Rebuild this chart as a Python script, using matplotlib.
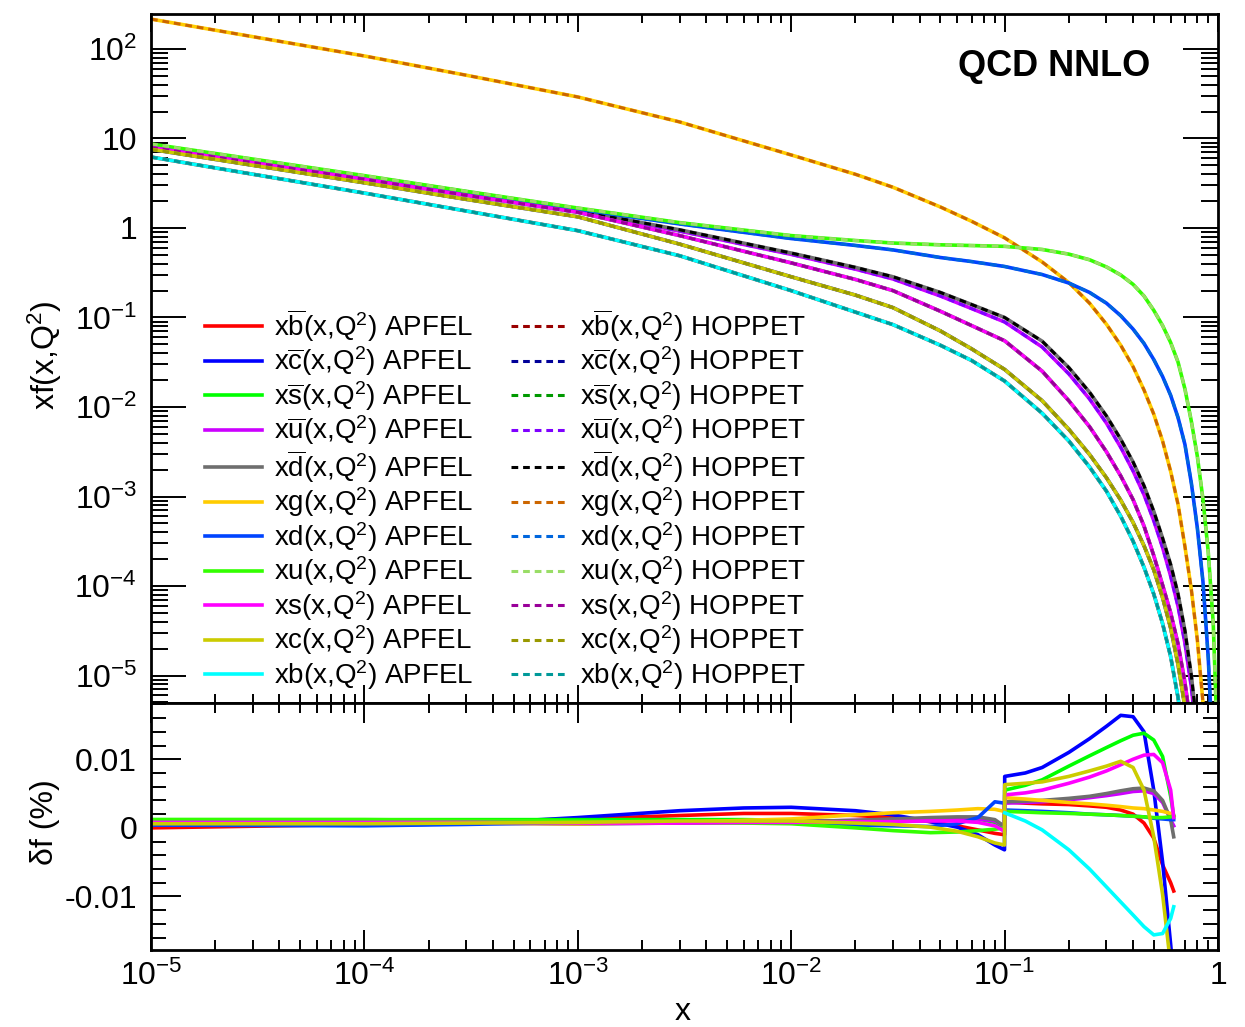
import matplotlib
matplotlib.use("Agg")
import matplotlib.pyplot as plt
import numpy as np
from matplotlib.ticker import FixedLocator, MultipleLocator, FuncFormatter, NullFormatter

plt.rcParams['font.family'] = ['Liberation Sans', 'DejaVu Sans']
plt.rcParams['mathtext.fontset'] = 'custom'
plt.rcParams['mathtext.rm'] = 'Liberation Sans'
plt.rcParams['mathtext.it'] = 'Liberation Sans:italic'
plt.rcParams['mathtext.bf'] = 'Liberation Sans:bold'
plt.rcParams['mathtext.default'] = 'regular'
plt.rcParams['axes.unicode_minus'] = False

# x grid of the PDF panel
x_pdf = [1e-5, 1e-4, 3e-4, 1e-3, 3e-3, 1e-2, 0.02, 0.03, 0.05, 0.07, 0.1, 0.15, 0.2, 0.25,
         0.3, 0.35, 0.4, 0.45, 0.5, 0.55, 0.6, 0.65, 0.7, 0.75, 0.8, 0.85, 0.9, 0.95, 0.98]

# log10 of xf(x,Q^2)
lg_xg = [2.334, 1.922, 1.707, 1.464, 1.185, 0.816, 0.60, 0.455, 0.235, 0.075, -0.11, -0.38, -0.61, -0.84,
         -1.075, -1.31, -1.55, -1.81, -2.08, -2.38, -2.72, -3.09, -3.56, -4.04, -4.6, -5.3, -6.1, -7.2, -8.2]
lg_xu = [0.939, 0.585, 0.41, 0.223, 0.060, -0.085, -0.14, -0.168, -0.188, -0.196, -0.205, -0.240, -0.292, -0.355,
         -0.435, -0.525, -0.63, -0.76, -0.92, -1.09, -1.28, -1.50, -1.80, -2.16, -2.55, -3.03, -3.62, -4.42, -5.35]
lg_xd = [0.927, 0.577, 0.405, 0.212, 0.045, -0.118, -0.195, -0.245, -0.33, -0.375, -0.43, -0.52, -0.615, -0.72,
         -0.84, -0.98, -1.13, -1.29, -1.47, -1.66, -1.87, -2.12, -2.42, -2.85, -3.35, -3.95, -4.8, -6.0, -7.5]
lg_xdbar = [0.916, 0.568, 0.39, 0.195, -0.02, -0.28, -0.44, -0.545, -0.72, -0.855, -1.0, -1.265, -1.56, -1.835,
            -2.1, -2.36, -2.615, -2.88, -3.165, -3.465, -3.76, -4.09, -4.50, -5.0, -5.6, -6.4, -7.4, -8.6, -9.5]
lg_xubar = [0.911, 0.563, 0.385, 0.19, -0.035, -0.295, -0.46, -0.57, -0.76, -0.90, -1.05, -1.33, -1.63, -1.91,
            -2.18, -2.45, -2.715, -2.98, -3.27, -3.57, -3.89, -4.23, -4.64, -5.13, -5.75, -6.5, -7.5, -8.7, -9.6]
lg_xs = [0.899, 0.545, 0.365, 0.175, -0.085, -0.39, -0.575, -0.70, -0.93, -1.09, -1.26, -1.60, -1.93, -2.22,
         -2.50, -2.77, -3.035, -3.33, -3.66, -3.99, -4.30, -4.65, -5.08, -5.6, -6.3, -7.1, -8.0, -9.0, -10.0]
lg_xc = [0.879, 0.505, 0.32, 0.125, -0.18, -0.545, -0.75, -0.89, -1.15, -1.35, -1.58, -1.93, -2.25, -2.53,
         -2.79, -3.04, -3.29, -3.55, -3.82, -4.13, -4.47, -4.88, -5.35, -5.9, -6.5, -7.2, -8.0, -9.0, -10.0]
lg_xb = [0.793, 0.39, 0.19, -0.03, -0.31, -0.70, -0.94, -1.08, -1.31, -1.48, -1.71, -2.07, -2.38, -2.67,
         -2.94, -3.22, -3.50, -3.79, -4.09, -4.42, -4.79, -5.25, -5.8, -6.4, -7.1, -7.9, -8.8, -9.8, -10.6]

# relative difference APFEL vs HOPPET (%)
x_ratio = [1e-5, 1e-4, 3e-4, 1e-3, 3e-3, 6e-3, 1e-2, 2e-2, 3e-2, 0.045, 0.06, 0.075, 0.09, 0.0999,
           0.1001, 0.125, 0.15, 0.2, 0.25, 0.3, 0.35, 0.4, 0.45, 0.5, 0.55, 0.6, 0.62]
nan = float('nan')
d_bbar = [0.0000, 0.0005, 0.0009, 0.0013, 0.0018, 0.0021, 0.0021, 0.0018, 0.0015, 0.0009, 0.0003, -0.0003, -0.0008, -0.0010,
          0.0038, 0.0036, 0.0035, 0.0034, 0.0032, 0.0030, 0.0026, 0.0020, 0.0007, -0.0015, -0.0054, -0.0080, -0.0092]
d_cbar = [0.0006, 0.0004, 0.0006, 0.0015, 0.0025, 0.0029, 0.0030, 0.0025, 0.0019, 0.0009, 0.0001, -0.0010, -0.0025, -0.0032,
          0.0075, 0.0080, 0.0088, 0.0110, 0.0130, 0.0148, 0.0164, 0.0162, 0.0140, 0.0055, -0.0050, -0.0170, -0.0220]
d_sbar = [0.0012, 0.0012, 0.0012, 0.0012, 0.0012, 0.0012, 0.0011, 0.0010, 0.0009, 0.0011, 0.0014, 0.0013, 0.0008, -0.0005,
          0.0055, 0.0062, 0.0070, 0.0090, 0.0105, 0.0117, 0.0127, 0.0135, 0.0138, 0.0128, 0.0104, 0.0046, 0.0017]
d_ubar = [0.0008, 0.0007, 0.0007, 0.0006, 0.0007, 0.0008, 0.0009, 0.0011, 0.0012, 0.0013, 0.0014, 0.0013, 0.0010, 0.0002,
          0.0036, 0.0037, 0.0038, 0.0041, 0.0044, 0.0047, 0.0050, 0.0053, 0.0054, 0.0050, 0.0037, 0.0012, 0.0003]
d_dbar = [0.0008, 0.0007, 0.0007, 0.0006, 0.0007, 0.0008, 0.0009, 0.0011, 0.0013, 0.0015, 0.0016, 0.0016, 0.0012, 0.0002,
          0.0038, 0.0039, 0.0040, 0.0043, 0.0046, 0.0050, 0.0054, 0.0057, 0.0058, 0.0054, 0.0040, 0.0012, -0.0013]
d_g = [0.0008, 0.0008, 0.0007, 0.0006, 0.0008, 0.0011, 0.0013, 0.0019, 0.0022, 0.0024, 0.0026, 0.0028, 0.0027, 0.0024,
       0.0044, 0.0042, 0.0040, 0.0037, 0.0035, 0.0033, 0.0031, 0.0029, 0.0028, 0.0026, 0.0024, 0.0021, 0.0017]
d_d = [0.0004, 0.0003, 0.0005, 0.0008, 0.0009, 0.0008, 0.0007, 0.0004, 0.0003, 0.0002, 0.0006, 0.0015, 0.0038, 0.0036,
       0.0026, 0.0025, 0.0024, 0.0022, 0.0020, 0.0019, 0.0018, 0.0017, 0.0016, 0.0014, 0.0013, 0.0012, 0.0012]
d_u = [0.0012, 0.0012, 0.0011, 0.0010, 0.0008, 0.0007, 0.0006, 0.0000, -0.0004, -0.0007, -0.0006, -0.0004, -0.0002, 0.0000,
       0.0024, 0.0023, 0.0022, 0.0021, 0.0020, 0.0019, 0.0018, 0.0017, 0.0016, 0.0015, 0.0015, 0.0016, 0.0018]
d_s = [0.0008, 0.0008, 0.0008, 0.0007, 0.0007, 0.0008, 0.0008, 0.0009, 0.0009, 0.0010, 0.0010, 0.0008, 0.0003, -0.0005,
       0.0048, 0.0051, 0.0055, 0.0065, 0.0074, 0.0083, 0.0092, 0.0100, 0.0106, 0.0107, 0.0095, 0.0055, 0.0015]
d_c = [0.0006, 0.0006, 0.0007, 0.0008, 0.0010, 0.0010, 0.0010, 0.0007, 0.0005, 0.0001, -0.0005, -0.0013, -0.0022, -0.0025,
       0.0063, 0.0065, 0.0067, 0.0075, 0.0083, 0.0090, 0.0097, 0.0088, 0.0055, -0.0013, -0.0097, -0.0200, -0.0250]
d_b = [nan, nan, nan, nan, nan, nan, nan, nan, nan, nan, nan, nan, nan, nan,
       0.0022, 0.0010, -0.0003, -0.0032, -0.0060, -0.0086, -0.0108, -0.0127, -0.0144, -0.0156, -0.0154, -0.0132, -0.0115]

flavours = [r'x$\overline{\mathrm{b}}$', r'x$\overline{\mathrm{c}}$', r'x$\overline{\mathrm{s}}$',
            r'x$\overline{\mathrm{u}}$', r'x$\overline{\mathrm{d}}$', 'xg', 'xd', 'xu', 'xs', 'xc', 'xb']
pdfs = [lg_xb, lg_xc, lg_xs, lg_xubar, lg_xdbar, lg_xg, lg_xd, lg_xu, lg_xs, lg_xc, lg_xb]
ratios = [d_bbar, d_cbar, d_sbar, d_ubar, d_dbar, d_g, d_d, d_u, d_s, d_c, d_b]

apfel_colors = ['#FF0000', '#0000FF', '#00FF00', '#CC00FF', '#6E6E6E', '#FFCC00',
                '#0044FF', '#33FF00', '#FF00FF', '#CCCC00', '#00FFFF']
hoppet_colors = ['#990000', '#000099', '#009900', '#7F00FF', '#000000', '#CC6600',
                 '#0066DD', '#99DD66', '#990099', '#999900', '#009999']

fig = plt.figure(figsize=(12.45, 10.27), dpi=100)
ax1 = fig.add_axes([0.12129, 0.31548, 0.85703, 0.67089])
ax2 = fig.add_axes([0.12129, 0.07498, 0.85703, 0.24051])

apfel_lines = []
hoppet_lines = []
for i in range(len(flavours)):
    f = 10.0 ** np.array(pdfs[i])
    la, = ax1.plot(x_pdf, f, color=apfel_colors[i], lw=2.6)
    lh, = ax1.plot(x_pdf, f, color=hoppet_colors[i], lw=2.2, ls=(0, (2.2, 1.6)))
    apfel_lines.append(la)
    hoppet_lines.append(lh)
    ax2.plot(x_ratio, ratios[i], color=apfel_colors[i], lw=2.6)

labels = [f + '(x,Q$^{2}$) APFEL' for f in flavours] + [f + '(x,Q$^{2}$) HOPPET' for f in flavours]
ax1.legend(apfel_lines + hoppet_lines, labels, ncol=2, loc='upper left',
           bbox_to_anchor=(205 / 1245, 1 - 307 / 1027), bbox_transform=fig.transFigure,
           frameon=False, fontsize=20, handlelength=2.05, handletextpad=0.43,
           columnspacing=1.35, labelspacing=0.025, borderpad=0, borderaxespad=0)


def log_label(v, pos):
    e = int(round(np.log10(v)))
    if e == 0:
        return '1'
    if e == 1:
        return '10'
    return '$10^{%d}$' % e


x_major = [10.0 ** e for e in range(-5, 1)]
x_minor = [k * 10.0 ** e for e in range(-5, 0) for k in range(2, 10)]
y_major = [10.0 ** e for e in range(-5, 3)]
y_minor = [k * 10.0 ** e for e in range(-6, 2) for k in range(2, 10)]

for ax in (ax1, ax2):
    ax.set_xscale('log')
    ax.set_xlim(1e-5, 1)
    ax.xaxis.set_major_locator(FixedLocator(x_major))
    ax.xaxis.set_minor_locator(FixedLocator(x_minor))
    ax.xaxis.set_minor_formatter(NullFormatter())
    for s in ax.spines.values():
        s.set_linewidth(2)

ax1.set_yscale('log')
ax1.set_ylim(4.93e-6, 246)
ax1.yaxis.set_major_locator(FixedLocator(y_major))
ax1.yaxis.set_minor_locator(FixedLocator([v for v in y_minor if 4.93e-6 < v < 100]))
ax1.yaxis.set_major_formatter(FuncFormatter(log_label))
ax1.yaxis.set_minor_formatter(NullFormatter())
ax1.xaxis.set_major_formatter(NullFormatter())
ax1.tick_params(axis='x', which='major', direction='in', length=13, width=1.4, top=True, bottom=True)
ax1.tick_params(axis='x', which='minor', direction='in', length=6.5, width=1.4, top=True, bottom=True)
ax1.tick_params(axis='y', which='major', direction='in', length=25, width=1.4, left=True, right=True,
                labelsize=23, pad=10)
ax1.tick_params(axis='y', which='minor', direction='in', length=12, width=1.4, left=True, right=True)

ax2.set_ylim(-0.0178, 0.0182)
ax2.yaxis.set_major_locator(FixedLocator([-0.01, 0, 0.01]))
ax2.yaxis.set_minor_locator(MultipleLocator(0.002))
ax2.yaxis.set_major_formatter(FuncFormatter(lambda v, p: {-1: '-0.01', 0: '0', 1: '0.01'}[int(round(v * 100))]))
ax2.xaxis.set_major_formatter(FuncFormatter(log_label))
ax2.tick_params(axis='x', which='major', direction='in', length=14.4, width=1.4, top=True, bottom=True,
                labelsize=23, pad=8)
ax2.tick_params(axis='x', which='minor', direction='in', length=7.2, width=1.4, top=True, bottom=True)
ax2.tick_params(axis='y', which='major', direction='in', length=21.6, width=1.4, left=True, right=True,
                labelsize=23, pad=10)
ax2.tick_params(axis='y', which='minor', direction='in', length=10.8, width=1.4, left=True, right=True)

fig.text(958 / 1245, 1 - 66 / 1027, 'QCD NNLO', fontsize=26, fontweight='bold', ha='left', va='center')
fig.text(45 / 1245, 1 - 355 / 1027, 'xf(x,Q$^{2}$)', rotation=90, fontsize=23, ha='center', va='center')
fig.text(45 / 1245, 1 - 822 / 1027, 'δf (%)', rotation=90, fontsize=23, ha='center', va='center')
fig.text(683 / 1245, 1 - 1012 / 1027, 'x', fontsize=23, ha='center', va='center')

fig.savefig('out.png', dpi=100)
